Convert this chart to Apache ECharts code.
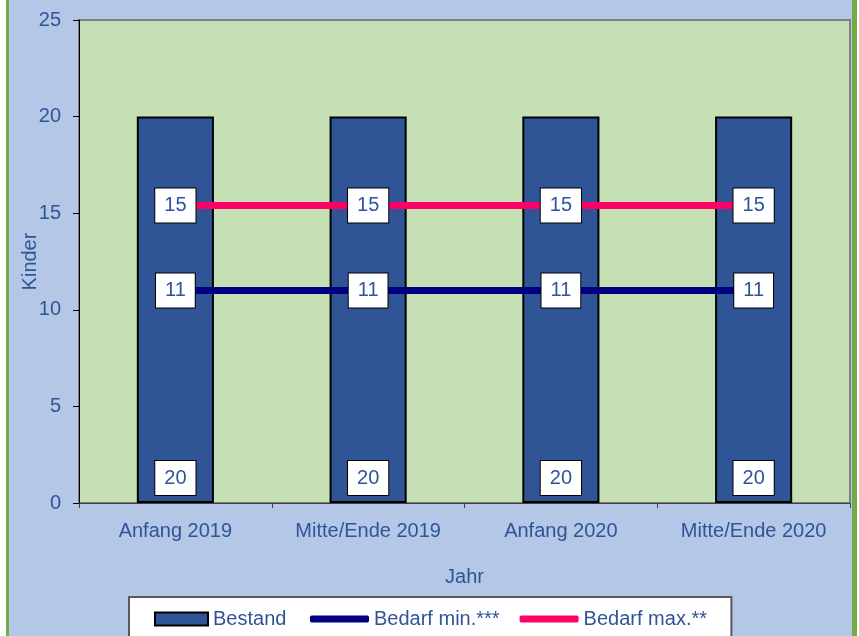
<!DOCTYPE html>
<html>
<head>
<meta charset="utf-8">
<script src="https://cdn.jsdelivr.net/npm/echarts@6/dist/echarts.min.js"></script>
<style>
  html, body { margin: 0; padding: 0; background: #ffffff; }
  #chart {
    position: absolute; left: 6px; top: 0;
    width: 851px; height: 636px; box-sizing: border-box;
    border-left: 3px solid #70ad47; border-right: 5px solid #70ad47;
    background: #b4c7e7;
  }
</style>
</head>
<body>
<div id="chart"></div>
<script>
// Daten
const categories = ['Anfang 2019', 'Mitte/Ende 2019', 'Anfang 2020', 'Mitte/Ende 2020'];
const bestand = [20, 20, 20, 20];
const bedarfMin = [11, 11, 11, 11];
const bedarfMax = [15.4, 15.4, 15.4, 15.4];

const textColor = '#2f5597';
const font = 'Liberation Sans, Arial, sans-serif';

const boxLabel = {
  show: true,
  color: textColor,
  fontFamily: font,
  fontSize: 20,
  lineHeight: 20,
  backgroundColor: '#ffffff',
  borderColor: '#000000',
  borderWidth: 1,
  padding: [7, 9],
  formatter: p => Math.round(p.value)
};

const chart = echarts.init(document.getElementById('chart'));

const legendText = { color: textColor, fontSize: 20, fontFamily: font };

const option = {
  animation: false,
  textStyle: { fontFamily: font },
  grid: {
    left: 70, right: 2, top: 20, bottom: 133,
    containLabel: false,
    outerBoundsMode: 'none',
    show: true,
    backgroundColor: '#c5e0b4',
    borderColor: '#808080',
    borderWidth: 2
  },
  legend: [
    {
      // Kasten + Bestand
      left: 120, top: 597,
      padding: [12, 445, 40, 25],
      backgroundColor: '#ffffff',
      borderColor: '#595959',
      borderWidth: 2,
      itemWidth: 53, itemHeight: 13,
      textStyle: legendText,
      data: [{ name: 'Bestand', icon: 'rect' }]
    },
    {
      left: 301, top: 597,
      padding: [12, 0, 0, 0],
      itemWidth: 59, itemHeight: 7, itemGap: 20,
      icon: 'roundRect',
      textStyle: legendText,
      data: ['Bedarf min.***', 'Bedarf max.**'],
      z: 5
    }
  ],
  xAxis: {
    type: 'category',
    data: categories,
    name: 'Jahr',
    nameLocation: 'middle',
    nameGap: 64,
    nameMoveOverlap: false,
    nameTextStyle: { color: textColor, fontSize: 20 },
    axisLine: { lineStyle: { color: '#404040', width: 1 } },
    axisTick: { show: true, length: 5, lineStyle: { color: '#404040' } },
    axisLabel: { color: textColor, fontSize: 20, margin: 18 }
  },
  yAxis: {
    type: 'value',
    min: 0, max: 25, interval: 5,
    name: 'Kinder',
    nameLocation: 'middle',
    nameGap: 39,
    nameMoveOverlap: false,
    nameTextStyle: { color: textColor, fontSize: 20 },
    axisLine: { show: true, lineStyle: { color: '#000000', width: 1 } },
    axisTick: { show: true, length: 6, lineStyle: { color: '#000000' } },
    axisLabel: { color: textColor, fontSize: 20, margin: 18 },
    splitLine: { show: false }
  },
  series: [
    {
      name: 'Bestand',
      type: 'bar',
      data: bestand,
      barWidth: '40%',
      itemStyle: { color: '#2f5597', borderColor: '#000000', borderWidth: 2 },
      label: Object.assign({}, boxLabel, { position: 'insideBottom', distance: 8 }),
      z: 2
    },
    {
      name: 'Bedarf min.***',
      type: 'line',
      data: bedarfMin,
      symbol: 'circle',
      symbolSize: 1,
      itemStyle: { color: '#000080' },
      lineStyle: { color: '#000080', width: 7, cap: 'round' },
      label: Object.assign({}, boxLabel, { position: 'inside' }),
      z: 3
    },
    {
      name: 'Bedarf max.**',
      type: 'line',
      data: bedarfMax,
      symbol: 'circle',
      symbolSize: 1,
      itemStyle: { color: '#ff0066' },
      lineStyle: { color: '#ff0066', width: 7, cap: 'round' },
      label: Object.assign({}, boxLabel, { position: 'inside' }),
      z: 3
    }
  ]
};

chart.setOption(option);
</script>
</body>
</html>
